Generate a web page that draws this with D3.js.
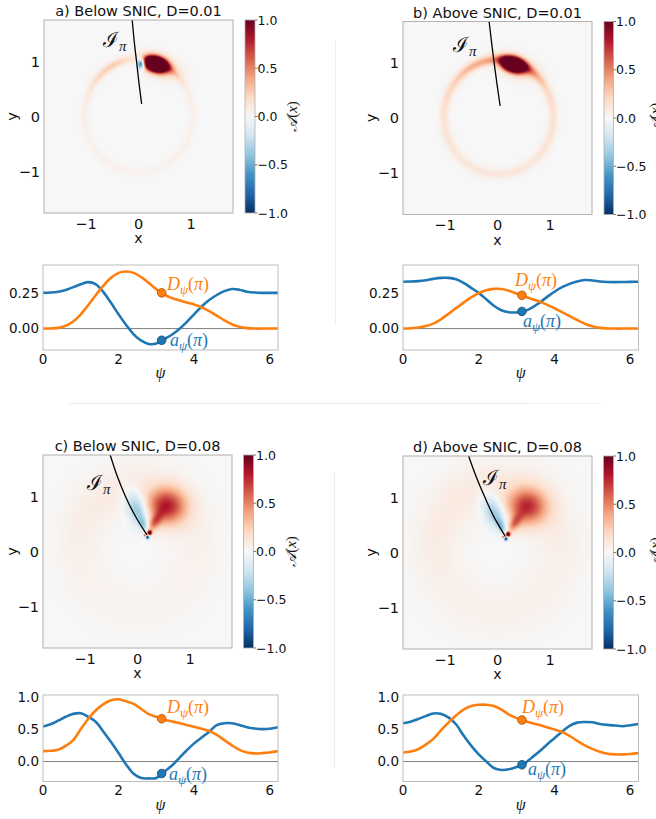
<!DOCTYPE html>
<html><head><meta charset="utf-8">
<script src="https://cdn.jsdelivr.net/npm/d3@7/dist/d3.min.js"></script>
<style>
html,body{margin:0;padding:0;background:#fff;}
svg{display:block;}
</style></head>
<body>
<svg id="fig" width="656" height="819"></svg>
<script>
// ================= DATA =================
const panelTitles = ["a) Below SNIC, D=0.01", "b) Above SNIC, D=0.01", "c) Below SNIC, D=0.08", "d) Above SNIC, D=0.08"];
const mapTicks = [-1, 0, 1];
const cbarTicks = [-1.0, -0.5, 0.0, 0.5, 1.0];
const psiTicks = [0, 2, 4, 6];
const topYTicks = [0.00, 0.25];
const botYTicks = [0.0, 0.5, 1.0];

const psiGrid = [0,0.2,0.4,0.6,0.8,1.0,1.2,1.4,1.6,1.8,2.0,2.2,2.4,2.6,2.8,3.0,3.2,3.4,3.6,3.8,4.0,4.2,4.4,4.6,4.8,5.0,5.2,5.4,5.6,5.8,6.0,6.22];

// a_psi (blue) and D_psi (orange) for each panel
const aPsiA = [0.25,0.252,0.258,0.27,0.29,0.31,0.325,0.31,0.255,0.18,0.10,0.025,-0.04,-0.085,-0.108,-0.105,-0.075,-0.045,-0.005,0.045,0.10,0.155,0.20,0.235,0.262,0.277,0.272,0.258,0.252,0.25,0.25,0.25];
const dPsiA = [0,0.001,0.005,0.02,0.05,0.10,0.165,0.235,0.30,0.355,0.39,0.40,0.39,0.36,0.32,0.275,0.24,0.215,0.198,0.183,0.168,0.148,0.122,0.09,0.058,0.03,0.012,0.003,0,0,0,0];
const aPsiB = [0.328,0.329,0.332,0.338,0.348,0.355,0.355,0.345,0.32,0.285,0.25,0.205,0.16,0.128,0.114,0.113,0.122,0.145,0.18,0.22,0.258,0.29,0.313,0.33,0.34,0.337,0.33,0.326,0.325,0.326,0.327,0.328];
const dPsiB = [0,0.002,0.008,0.018,0.035,0.065,0.103,0.143,0.182,0.218,0.248,0.268,0.278,0.277,0.265,0.245,0.226,0.207,0.19,0.168,0.142,0.115,0.087,0.06,0.034,0.016,0.005,0.001,0,0,0,0];
const aPsiC = [0.54,0.575,0.63,0.69,0.735,0.745,0.69,0.61,0.46,0.30,0.13,-0.045,-0.19,-0.255,-0.26,-0.255,-0.16,-0.07,0.05,0.17,0.28,0.37,0.46,0.56,0.59,0.59,0.565,0.53,0.51,0.50,0.505,0.53];
const dPsiC = [0.16,0.165,0.18,0.24,0.33,0.50,0.66,0.79,0.885,0.945,0.96,0.93,0.89,0.81,0.73,0.69,0.645,0.62,0.595,0.565,0.535,0.505,0.47,0.41,0.33,0.25,0.18,0.14,0.125,0.13,0.14,0.16];
const aPsiD = [0.59,0.615,0.655,0.70,0.74,0.735,0.68,0.575,0.40,0.245,0.11,0.0,-0.10,-0.13,-0.12,-0.085,-0.035,0.06,0.155,0.26,0.36,0.46,0.55,0.60,0.61,0.605,0.58,0.565,0.555,0.545,0.56,0.58];
const dPsiD = [0.14,0.155,0.19,0.26,0.35,0.48,0.60,0.71,0.80,0.855,0.875,0.875,0.855,0.80,0.725,0.67,0.63,0.595,0.565,0.53,0.495,0.455,0.395,0.32,0.25,0.195,0.15,0.12,0.11,0.11,0.115,0.13];

const markerPsi = 3.1416;
const markerA = [-0.082, 0.12, -0.185, -0.05];
const markerD = [0.25, 0.233, 0.66, 0.64];

// Activity maps A(x): ring (cx, cy, radius, width) with angular amplitude (every 15 deg), plus blobs
const ringAngles = [0,15,30,45,60,75,90,105,120,135,150,165,180,195,210,225,240,255,270,285,300,315,330,345];
const ringA = [0, 0.02, 1.03, 0.05];
const ringAmpA = [0.05,0.06,0.08,0.15,0.30,0.15,0.04,0.20,0.27,0.22,0.13,0.08,0.06,0.05,0.05,0.05,0.05,0.05,0.05,0.05,0.05,0.05,0.05,0.05];
const ringB = [0.02, 0.02, 1.04, 0.06];
const ringAmpB = [0.15,0.17,0.22,0.30,0.40,0.40,0.40,0.40,0.35,0.28,0.22,0.18,0.15,0.14,0.13,0.12,0.12,0.12,0.12,0.12,0.12,0.13,0.14,0.15];
const ringC = [0, 0.08, 1.1, 0.3];
const ringAmpC = [0.05,0.055,0.06,0.065,0.07,0.075,0.08,0.085,0.085,0.085,0.08,0.07,0.06,0.05,0.045,0.04,0.035,0.035,0.035,0.035,0.035,0.04,0.04,0.045];
const ringD = [0, 0.08, 1.15, 0.32];
const ringAmpD = [0.065,0.07,0.075,0.08,0.085,0.09,0.09,0.095,0.095,0.095,0.09,0.085,0.08,0.07,0.06,0.055,0.05,0.05,0.05,0.05,0.05,0.055,0.055,0.06];
// blobs: [cx, cy, sLong, sShort, rotationDeg, amplitude]
const blobsA = [[0.33,0.95,0.14,0.085,-15,3.0],[0.45,0.9,0.25,0.12,-20,0.25],[0.05,0.96,0.05,0.065,0,-0.95]];
const blobsB = [[0.30,0.97,0.14,0.08,-15,3.0],[0.40,0.92,0.25,0.12,-20,0.3]];
const blobsC = [[0.55,0.82,0.26,0.23,0,0.75],[0.32,0.52,0.14,0.07,55,0.45],[0.0,0.76,0.23,0.13,114,-0.45],[0.12,0.48,0.11,0.05,114,-0.3],[0.23,0.34,0.03,0.03,0,1.3],[0.19,0.26,0.025,0.025,0,-1.0],[0.14,0.29,0.02,0.02,0,0.7]];
const blobsD = [[0.56,0.83,0.26,0.23,0,0.7],[0.32,0.52,0.14,0.07,55,0.42],[-0.06,0.72,0.23,0.13,120,-0.4],[0.08,0.47,0.11,0.05,120,-0.3],[0.20,0.33,0.03,0.03,0,1.3],[0.16,0.25,0.025,0.025,0,-1.0],[0.11,0.28,0.02,0.02,0,0.7]];

// I_pi isochron curves (x, y)
const isoA = [[-0.12,1.75],[-0.08,1.35],[-0.03,0.94],[0.01,0.6],[0.06,0.23]];
const isoB = [[-0.16,1.75],[-0.11,1.35],[-0.05,0.9],[0.0,0.55],[0.05,0.22]];
const isoC = [[-0.52,1.75],[-0.38,1.35],[-0.22,0.98],[-0.04,0.64],[0.18,0.3]];
const isoD = [[-0.55,1.75],[-0.40,1.36],[-0.24,1.0],[-0.07,0.65],[0.15,0.29]];

// RdBu (reversed: blue = -1, red = +1) stops
const rdbuColors = ["#053061","#2166ac","#4393c3","#92c5de","#d1e5f0","#f7f7f7","#fddbc7","#f4a582","#d6604d","#b2182b","#67001f"];

// ================= DRAWING =================
const svg = d3.select("#fig");
const BLUE = "#1f77b4", ORANGE = "#ff7f0e";
const SANS = "DejaVu Sans, sans-serif";
const SERIF = "Liberation Serif, DejaVu Serif, serif";
const cscale = d3.scaleLinear().domain(d3.range(rdbuColors.length).map(i => -1 + 2 * i / (rdbuColors.length - 1)))
  .range(rdbuColors).interpolate(d3.interpolateRgb).clamp(true);
const cmap = v => cscale(v);

// faint separators
svg.append("line").attr("x1",335.5).attr("x2",335.5).attr("y1",40).attr("y2",325).attr("stroke","#ececec");
svg.append("line").attr("x1",334.5).attr("x2",334.5).attr("y1",472).attr("y2",767).attr("stroke","#ececec");
svg.append("line").attr("x1",69).attr("x2",529).attr("y1",403.5).attr("y2",403.5).attr("stroke","#e8e8e8");
svg.append("line").attr("x1",529).attr("x2",602).attr("y1",403.5).attr("y2",403.5).attr("stroke","#f4f4f4");

const mapLayout = [
  {box:[44,233,20,213], cb:[245,255], ylab:12, cbl:297},
  {box:[403,592,21.5,214.5], cb:[604,613.5], ylab:371, cbl:660},
  {box:[43,232,455,648], cb:[243.5,253.5], ylab:12, cbl:296},
  {box:[403,592,456,649], cb:[603.5,613.5], ylab:371, cbl:660}
];
const rings = [ringA, ringB, ringC, ringD];
const ringAmps = [ringAmpA, ringAmpB, ringAmpC, ringAmpD];
const blobSets = [blobsA, blobsB, blobsC, blobsD];
const isos = [isoA, isoB, isoC, isoD];
const isoLabel = [[103,47],[453,52],[87,490],[483,485]];

function fieldValue(k, x, y) {
  const r = rings[k], amps = ringAmps[k];
  const dx = x - r[0], dy = y - r[1];
  const rho = Math.hypot(dx, dy);
  let th = Math.atan2(dy, dx) * 180 / Math.PI; if (th < 0) th += 360;
  const step = ringAngles[1] - ringAngles[0];
  const i = Math.floor(th / step), f = th / step - i;
  const n = ringAngles.length;
  const amp = amps[i % n] * (1 - f) + amps[(i + 1) % n] * f;
  let v = amp * Math.exp(-((rho - r[2]) ** 2) / (2 * r[3] * r[3]));
  for (const b of blobSets[k]) {
    const [cx, cy, sx, sy, rot, a] = b;
    const c = Math.cos(rot * Math.PI / 180), s = Math.sin(rot * Math.PI / 180);
    const u = (x - cx) * c + (y - cy) * s, w = -(x - cx) * s + (y - cy) * c;
    v += a * Math.exp(-(u * u / (2 * sx * sx) + w * w / (2 * sy * sy)));
  }
  return v;
}

mapLayout.forEach((L, k) => {
  const [x0, x1, y0, y1] = L.box;
  const xs = d3.scaleLinear().domain([-1.8, 1.8]).range([x0, x1]);
  const ys = d3.scaleLinear().domain([-1.75, 1.75]).range([y1, y0]);
  const g = svg.append("g");
  // heat map image
  const S = 2;
  const cw = Math.round((x1 - x0) * S), ch = Math.round((y1 - y0) * S);
  const cv = document.createElement("canvas"); cv.width = cw; cv.height = ch;
  const ctx = cv.getContext("2d");
  const img = ctx.createImageData(cw, ch);
  for (let j = 0; j < ch; j++) {
    const yv = ys.invert(y0 + (j + 0.5) / S);
    for (let i = 0; i < cw; i++) {
      const xv = xs.invert(x0 + (i + 0.5) / S);
      const col = d3.rgb(cmap(fieldValue(k, xv, yv)));
      const p = (j * cw + i) * 4;
      img.data[p] = col.r; img.data[p+1] = col.g; img.data[p+2] = col.b; img.data[p+3] = 255;
    }
  }
  ctx.putImageData(img, 0, 0);
  g.append("image").attr("x", xs(-1.8)).attr("y", ys(1.75))
    .attr("width", xs(1.8) - xs(-1.8)).attr("height", ys(-1.75) - ys(1.75))
    .attr("preserveAspectRatio", "none").attr("href", cv.toDataURL());
  // isochron
  const cid = "clip" + k;
  svg.append("clipPath").attr("id", cid).append("rect").attr("x", x0).attr("y", y0).attr("width", x1 - x0).attr("height", y1 - y0);
  g.append("path").datum(isos[k]).attr("clip-path", `url(#${cid})`)
    .attr("d", d3.line().x(d => xs(d[0])).y(d => ys(d[1])).curve(d3.curveCatmullRom))
    .attr("fill", "none").attr("stroke", "#000").attr("stroke-width", 1.3);
  const t = g.append("text").attr("x", isoLabel[k][0]).attr("y", isoLabel[k][1])
    .attr("font-family", "DejaVu Serif, serif").attr("font-size", 21).attr("fill", "#111");
  t.append("tspan").text("ℐ");
  t.append("tspan").attr("dy", 4).attr("font-size", 15).attr("font-style", "italic").attr("font-family", SERIF).text("π");
  // frame
  g.append("rect").attr("x", x0).attr("y", y0).attr("width", x1 - x0).attr("height", y1 - y0)
    .attr("fill", "none").attr("stroke", "#b0b0b0").attr("stroke-width", 1);
  // ticks
  mapTicks.forEach(v => {
    g.append("text").attr("x", xs(v)).attr("y", y1 + 15.5).attr("text-anchor", "middle")
      .attr("font-family", SANS).attr("font-size", 14.5).attr("fill", "#111").text(v < 0 ? "\u2212" + Math.abs(v) : v);
    g.append("text").attr("x", x0 - 4).attr("y", ys(v)).attr("dy", "0.36em").attr("text-anchor", "end")
      .attr("font-family", SANS).attr("font-size", 14.5).attr("fill", "#111").text(v < 0 ? "\u2212" + Math.abs(v) : v);
  });
  g.append("text").attr("x", (x0 + x1) / 2).attr("y", y1 + 30).attr("text-anchor", "middle")
    .attr("font-family", SANS).attr("font-size", 14).attr("fill", "#111").text("x");
  g.append("text").attr("transform", `translate(${L.ylab + 5},${(y0 + y1) / 2}) rotate(-90)`).attr("text-anchor", "middle")
    .attr("font-family", SANS).attr("font-size", 14.5).attr("fill", "#111").text("y");
  g.append("text").attr("x", (x0 + x1) / 2).attr("y", y0 - 4).attr("text-anchor", "middle")
    .attr("font-family", SANS).attr("font-size", 14.5).attr("fill", "#111").text(panelTitles[k]);
  // colorbar
  const [c0, c1] = L.cb;
  const cs = d3.scaleLinear().domain([-1, 1]).range([y1, y0]);
  const gid = "grad" + k;
  const grad = svg.append("defs").append("linearGradient").attr("id", gid)
    .attr("x1", 0).attr("x2", 0).attr("y1", 1).attr("y2", 0);
  rdbuColors.forEach((c, i) => grad.append("stop").attr("offset", i / (rdbuColors.length - 1)).attr("stop-color", c));
  g.append("rect").attr("x", c0).attr("y", cs(1)).attr("width", c1 - c0).attr("height", cs(-1) - cs(1))
    .attr("fill", `url(#${gid})`).attr("stroke", "#b0b0b0").attr("stroke-width", 0.8);
  cbarTicks.forEach(v => {
    g.append("line").attr("x1", c1).attr("x2", c1 + 2.5).attr("y1", cs(v)).attr("y2", cs(v)).attr("stroke", "#555").attr("stroke-width", 0.8);
    g.append("text").attr("x", c1 + 2.5).attr("y", cs(v)).attr("dy", "0.36em")
      .attr("font-family", SANS).attr("font-size", 12.5).attr("fill", "#111")
      .text((v < 0 ? "\u2212" : "") + Math.abs(v).toFixed(1));
  });
  const ct = g.append("text").attr("transform", `translate(${L.cbl},${(y0 + y1) / 2}) rotate(-90)`).attr("text-anchor", "middle")
    .attr("font-family", SERIF).attr("font-size", 15).attr("fill", "#111");
  ct.append("tspan").attr("font-style", "italic").attr("font-family", "DejaVu Serif, serif").text("𝒜");
  ct.append("tspan").text("(");
  ct.append("tspan").attr("font-style", "italic").text("x");
  ct.append("tspan").text(")");
});

// ---------------- psi line plots ----------------
const lineLayout = [
  {box:[43,278,265,350], yd:[-0.15,0.445], ticks:topYTicks, fmt:d3.format(".2f"), aL:[170,346], dL:[167,290]},
  {box:[403,638.5,265,350], yd:[-0.15,0.445], ticks:topYTicks, fmt:d3.format(".2f"), aL:[523,327], dL:[515,286]},
  {box:[43,278,695,781.5], yd:[-0.308,1.026], ticks:botYTicks, fmt:d3.format(".1f"), aL:[169,780], dL:[167,713]},
  {box:[403,638.5,695,781.5], yd:[-0.308,1.026], ticks:botYTicks, fmt:d3.format(".1f"), aL:[528,775], dL:[522,713]}
];
const aSeries = [aPsiA, aPsiB, aPsiC, aPsiD];
const dSeries = [dPsiA, dPsiB, dPsiC, dPsiD];

lineLayout.forEach((L, k) => {
  const [x0, x1, y0, y1] = L.box;
  const xs = d3.scaleLinear().domain([0, 6.22]).range([x0, x1]);
  const ys = d3.scaleLinear().domain(L.yd).range([y1, y0]);
  const g = svg.append("g");
  const cid = "lclip" + k;
  svg.append("clipPath").attr("id", cid).append("rect").attr("x", x0).attr("y", y0).attr("width", x1 - x0).attr("height", y1 - y0);
  g.append("line").attr("x1", x0).attr("x2", x1).attr("y1", ys(0)).attr("y2", ys(0)).attr("stroke", "#808080").attr("stroke-width", 1);
  const line = d3.line().x((d, i) => xs(psiGrid[i])).y(d => ys(d)).curve(d3.curveCatmullRom.alpha(0.5));
  g.append("path").datum(aSeries[k]).attr("d", line).attr("clip-path", `url(#${cid})`)
    .attr("fill", "none").attr("stroke", BLUE).attr("stroke-width", 2.6).attr("stroke-linejoin", "round");
  g.append("path").datum(dSeries[k]).attr("d", line).attr("clip-path", `url(#${cid})`)
    .attr("fill", "none").attr("stroke", ORANGE).attr("stroke-width", 2.6).attr("stroke-linejoin", "round");
  g.append("circle").attr("cx", xs(markerPsi)).attr("cy", ys(markerD[k])).attr("r", 4.3)
    .attr("fill", ORANGE).attr("stroke", "#b25a0a").attr("stroke-width", 0.9);
  g.append("circle").attr("cx", xs(markerPsi)).attr("cy", ys(markerA[k])).attr("r", 4.3)
    .attr("fill", BLUE).attr("stroke", "#154f78").attr("stroke-width", 0.9);
  g.append("rect").attr("x", x0).attr("y", y0).attr("width", x1 - x0).attr("height", y1 - y0)
    .attr("fill", "none").attr("stroke", "#bdbdbd").attr("stroke-width", 1);
  psiTicks.forEach(v => g.append("text").attr("x", xs(v)).attr("y", y1 + 13.5).attr("text-anchor", "middle")
    .attr("font-family", SANS).attr("font-size", 13.5).attr("fill", "#111").text(v));
  L.ticks.forEach(v => g.append("text").attr("x", x0 - 4).attr("y", ys(v)).attr("dy", "0.36em").attr("text-anchor", "end")
    .attr("font-family", SANS).attr("font-size", 13.5).attr("fill", "#111").text(L.fmt(v)));
  g.append("text").attr("x", (x0 + x1) / 2).attr("y", y1 + 28).attr("text-anchor", "middle")
    .attr("font-family", SERIF).attr("font-style", "italic").attr("font-size", 16).attr("fill", "#111").text("ψ");
  // annotations
  const dt = g.append("text").attr("x", L.dL[0]).attr("y", L.dL[1]).attr("font-family", SERIF).attr("font-size", 18).attr("fill", ORANGE);
  dt.append("tspan").attr("font-style", "italic").text("D");
  dt.append("tspan").attr("font-style", "italic").attr("font-size", 13).attr("dy", 4).text("ψ");
  dt.append("tspan").attr("dy", -4).text("(");
  dt.append("tspan").attr("font-style", "italic").text("π");
  dt.append("tspan").text(")");
  const at = g.append("text").attr("x", L.aL[0]).attr("y", L.aL[1]).attr("font-family", SERIF).attr("font-size", 18).attr("fill", BLUE);
  at.append("tspan").attr("font-style", "italic").text("a");
  at.append("tspan").attr("font-style", "italic").attr("font-size", 13).attr("dy", 4).text("ψ");
  at.append("tspan").attr("dy", -4).text("(");
  at.append("tspan").attr("font-style", "italic").text("π");
  at.append("tspan").text(")");
});
</script>
</body></html>
